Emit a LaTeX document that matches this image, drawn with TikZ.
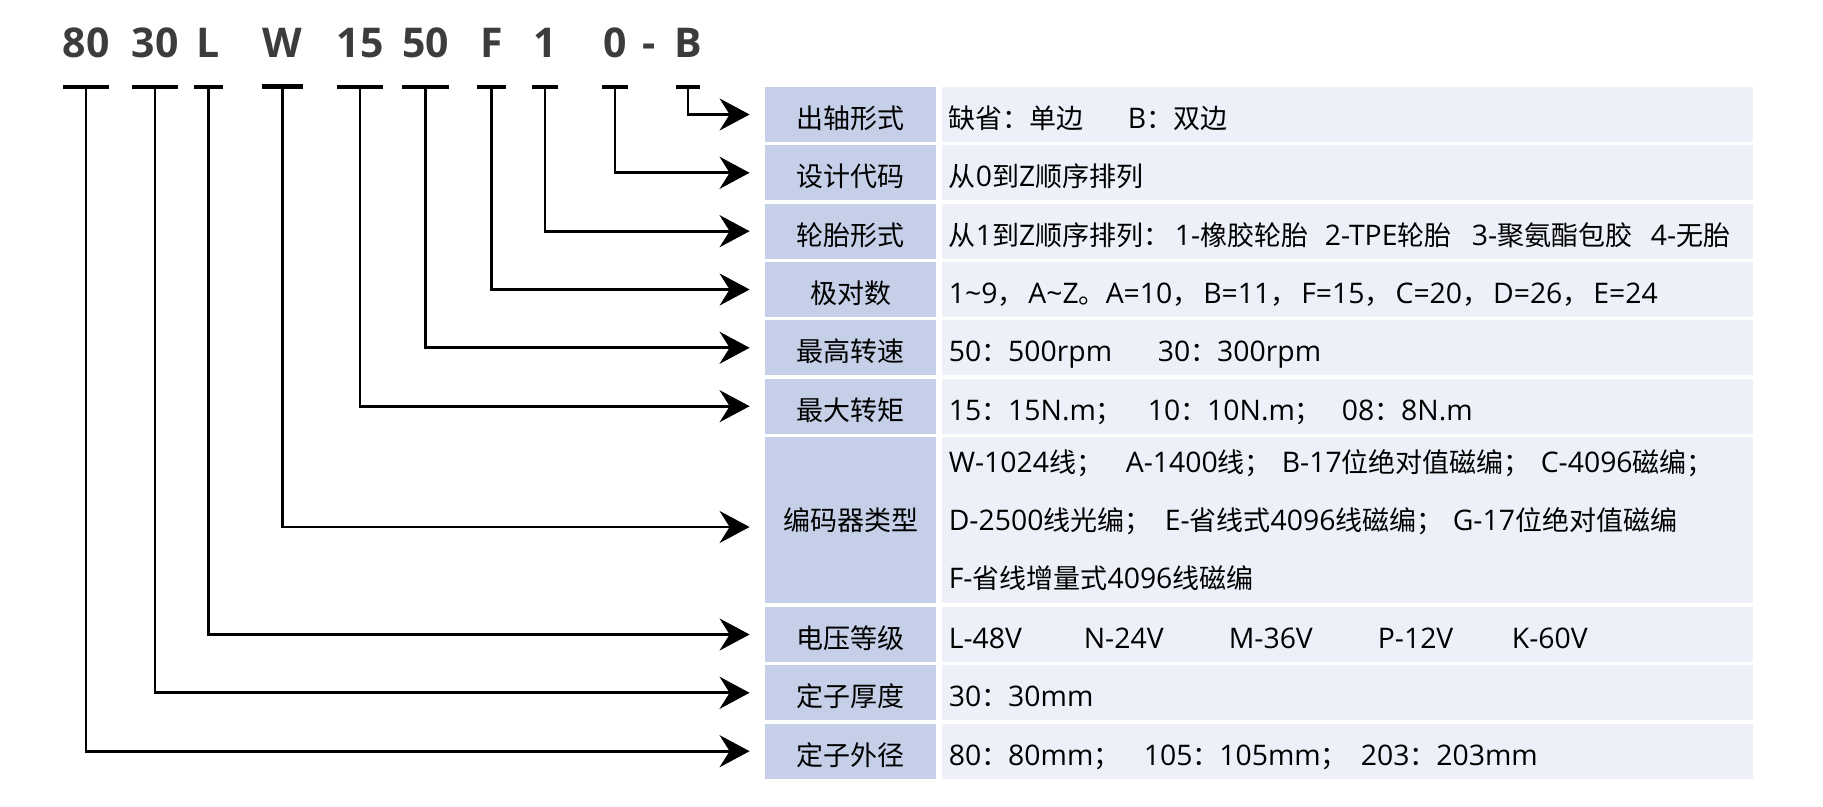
\documentclass[tikz,border=0pt]{standalone}
\usepackage{fontspec}
\setmainfont{Open Sans}[Scale=1.05]
\newfontfamily\latin{Open Sans}[Scale=1.05]
\newfontfamily\cjk{Noto Sans CJK SC}
\newfontfamily\codefont{Open Sans}
% CJK characters switch to the CJK font
\XeTeXinterchartokenstate=1
\newXeTeXintercharclass\cjkclass
\newcount\cjkc
\cjkc="3000 \loop \XeTeXcharclass\cjkc=\cjkclass \advance\cjkc by 1 \ifnum\cjkc<"3040 \repeat
\cjkc="4E00 \loop \XeTeXcharclass\cjkc=\cjkclass \advance\cjkc by 1 \ifnum\cjkc<"A000 \repeat
\cjkc="FF00 \loop \XeTeXcharclass\cjkc=\cjkclass \advance\cjkc by 1 \ifnum\cjkc<"FFF0 \repeat
\XeTeXinterchartoks 0 \cjkclass = {\cjk}
\XeTeXinterchartoks 4095 \cjkclass = {\cjk}
\XeTeXinterchartoks \cjkclass 0 = {\latin}
\XeTeXinterchartoks \cjkclass 4095 = {\latin}
\usepackage{tikz}
\usetikzlibrary{arrows.meta}
\usetikzlibrary{positioning}
\definecolor{hdrblue}{RGB}{197,208,232}
\definecolor{cellgray}{RGB}{237,240,249}
\definecolor{codegray}{RGB}{60,60,60}
\newcommand{\cm}{，\hspace{2pt}}
\tikzset{hdr/.style = {fill=hdrblue, minimum width=85.5pt, minimum height=27.5pt, inner sep=0, text height=15.5pt, text depth=1.5pt, font=\fontsize{13.5}{29}\selectfont}}
\tikzset{cell/.style = {fill=cellgray, minimum height=27.5pt, text width=398.5pt, inner xsep=3.5pt, inner ysep=0, text height=15.5pt, text depth=1.5pt, align=left, font=\fontsize{13.5}{29}\selectfont}}
\tikzset{tall/.style = {minimum height=83pt, text height={}, text depth={}}}
\tikzset{code/.style = {anchor=base, inner sep=0, text=codegray, font=\codefont\bfseries\fontsize{20.5}{24}\selectfont}}
\tikzset{link/.style = {line width=1.4pt, -{Stealth[length=15pt, width=16pt, inset=5pt]}, shorten >=7.5pt}}

\begin{document}
\begin{tikzpicture}[x=0.5pt, y=-0.5pt]
    \useasboundingbox (0, 0) rectangle (1823, 807);

    \foreach \nm/\cy/\ttl in {r1/114.5/出轴形式, r2/172.8/设计代码, r3/231.2/轮胎形式, r4/289.5/极对数, r5/347.8/最高转速, r6/406.2/最大转矩, r8/634.5/电压等级, r9/692.8/定子厚度, r10/751.2/定子外径} {
      \node [hdr] (\nm) at (850.5, \cy) {\ttl};
    }
    \node [hdr, tall] (r7) at (850.5, 520) {编码器类型};

    \node [cell, right=2.5pt of r1] (c1) {\makebox[89.5pt][l]{缺省：单边}B：双边};
    \node [cell, right=2.5pt of r2] (c2) {从0到Z顺序排列};
    \node [cell, right=2.5pt of r3] (c3) {\makebox[113pt][l]{从1到Z顺序排列：}\makebox[75pt][l]{1-橡胶轮胎}\makebox[73.5pt][l]{2-TPE轮胎}\makebox[89.5pt][l]{3-聚氨酯包胶}4-无胎};
    \node [cell, right=2.5pt of r4] (c4) {1\textasciitilde 9\cm A\textasciitilde Z。A=10\cm B=11\cm F=15\cm C=20\cm D=26\cm E=24};
    \node [cell, right=2.5pt of r5] (c5) {\makebox[104.5pt][l]{50：500rpm}30：300rpm};
    \node [cell, right=2.5pt of r6] (c6) {\makebox[99.5pt][l]{15：15N.m；}\makebox[97pt][l]{10：10N.m；}08：8N.m};
    \node [cell, tall, right=2.5pt of r7] (c7) {\makebox[88.5pt][l]{W-1024线；}\makebox[78pt][l]{A-1400线；}\makebox[129.5pt][l]{B-17位绝对值磁编；}C-4096磁编；\\
      \makebox[108pt][l]{D-2500线光编；}\makebox[144pt][l]{E-省线式4096线磁编；}G-17位绝对值磁编\\
      F-省线增量式4096线磁编};
    \node [cell, right=2.5pt of r8] (c8) {\makebox[67.5pt][l]{L-48V}\makebox[72.5pt][l]{N-24V}\makebox[74.5pt][l]{M-36V}\makebox[67pt][l]{P-12V}K-60V};
    \node [cell, right=2.5pt of r9] (c9) {30：30mm};
    \node [cell, right=2.5pt of r10] (c10) {\makebox[97.5pt][l]{80：80mm；}\makebox[108.5pt][l]{105：105mm；}203：203mm};

    % code letters, bars and leader arrows
    \foreach \nm/\cx/\hw/\bw/\txt/\row/\dy in {kod/86/23/4/80/r10/0, kth/155/23/4/30/r9/0, kvo/208.5/14.5/4/L/r8/0, ken/282.5/20.5/5/W/r7/-3.5, ktq/360/23/4/15/r6/0, ksp/425.5/23.5/4/50/r5/0, kpo/491.5/14.5/4/F/r4/0, kty/545/13/4/1/r3/0, kde/615/13/4/0/r2/0, ksh/688/12/4/B/r1/0} {
      \node [code] (t\nm) at (\cx, 58) {\txt};
      \fill (\cx-\hw, 87-\bw/2) rectangle (\cx+\hw, 87+\bw/2);
      \coordinate (\nm) at (\cx, 87);
      \draw [link] (\nm) |- ([yshift=\dy pt]\row.west);
    }
    \node [code] (tdash) at (649, 58) {-};
\end{tikzpicture}
\end{document}
